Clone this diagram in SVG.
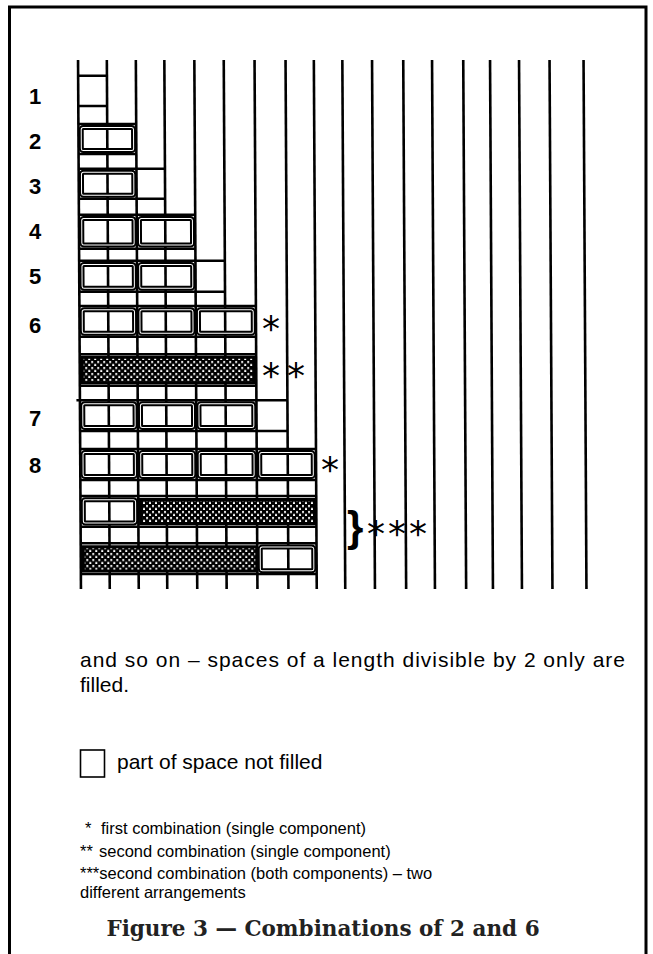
<svg xmlns="http://www.w3.org/2000/svg" width="653" height="954" viewBox="0 0 653 954">
<style>
.frame{fill:none;stroke:#000;stroke-width:3}
.v line,.h line{stroke:#000;stroke-width:2.6;stroke-linecap:butt}
.b{fill:none;stroke:#000;stroke-width:5}
.bi{fill:none;stroke:#fff;stroke-width:1}
.hx{fill:url(#chk);stroke:#000;stroke-width:3}
.num{font-family:"Liberation Sans",Arial,sans-serif;font-weight:bold;font-size:22px;fill:#000}
.ast{font-family:"DejaVu Sans",sans-serif;font-size:36px;fill:#000}
.body{font-family:"Liberation Sans",Arial,sans-serif;font-size:21px;fill:#000}
.leg{font-family:"Liberation Sans",Arial,sans-serif;font-size:16.5px;fill:#000}
.cap{font-family:"DejaVu Serif","Liberation Serif",serif;font-weight:bold;font-size:21.5px;fill:#222}
</style>
<defs>
<pattern id="chk" width="6" height="6" patternUnits="userSpaceOnUse">
<rect width="6" height="6" fill="#000"/>
<rect x="1" y="1" width="2" height="2" fill="#fff"/>
<rect x="4" y="4" width="2" height="2" fill="#fff"/>
</pattern>
</defs>
<rect width="653" height="954" fill="#fff"/>
<path class="frame" d="M9.5,960 V7 H646 V960"/>

<g id="grid" transform="matrix(1 0 0.0055 1 -1.79 0)">
<g id="verticals" class="v">
<line x1="79.5" y1="60" x2="79.5" y2="589"/>
<line x1="108.3" y1="60" x2="108.3" y2="589"/>
<line x1="137.3" y1="60" x2="137.3" y2="589"/>
<line x1="165.8" y1="60" x2="165.8" y2="589"/>
<line x1="195.8" y1="60" x2="195.8" y2="589"/>
<line x1="225.2" y1="60" x2="225.2" y2="589"/>
<line x1="256" y1="60" x2="256" y2="589"/>
<line x1="287" y1="60" x2="287" y2="589"/>
<line x1="315.3" y1="60" x2="315.3" y2="589"/>
<line x1="343.8" y1="60" x2="343.8" y2="589"/>
<line x1="373.5" y1="60" x2="373.5" y2="589"/>
<line x1="404.7" y1="60" x2="404.7" y2="589"/>
<line x1="433.5" y1="60" x2="433.5" y2="589"/>
<line x1="464.7" y1="60" x2="464.7" y2="589"/>
<line x1="491.5" y1="60" x2="491.5" y2="589"/>
<line x1="520.5" y1="60" x2="520.5" y2="589"/>
<line x1="551" y1="60" x2="551" y2="589"/>
<line x1="585" y1="60" x2="585" y2="589"/>
</g>

<g id="row1" class="h">
<line x1="79.5" y1="75.7" x2="108.3" y2="75.7"/>
<line x1="79.5" y1="106" x2="108.3" y2="106"/>
</g>
<g id="row2">
<g class="h"><line x1="79.5" y1="124" x2="137.3" y2="124"/><line x1="79.5" y1="154" x2="137.3" y2="154"/></g>
<rect class="b" x="82.3" y="127.5" width="52.3" height="23" rx="2"/><rect class="bi" x="82.3" y="127.5" width="52.3" height="23" rx="2"/>
</g>
<g id="row3">
<g class="h"><line x1="79.5" y1="168.7" x2="165.8" y2="168.7"/><line x1="79.5" y1="198.7" x2="165.8" y2="198.7"/></g>
<rect class="b" x="82.3" y="172.3" width="52.3" height="23" rx="2"/><rect class="bi" x="82.3" y="172.3" width="52.3" height="23" rx="2"/>
</g>
<g id="row4">
<g class="h"><line x1="79.5" y1="214.7" x2="195.8" y2="214.7"/><line x1="79.5" y1="248.8" x2="195.8" y2="248.8"/></g>
<rect class="b" x="82.3" y="218.5" width="52.3" height="26.5" rx="2"/><rect class="bi" x="82.3" y="218.5" width="52.3" height="26.5" rx="2"/>
<rect class="b" x="140" y="218.5" width="53" height="26.5" rx="2"/><rect class="bi" x="140" y="218.5" width="53" height="26.5" rx="2"/>
</g>
<g id="row5">
<g class="h"><line x1="79.5" y1="260.7" x2="225.2" y2="260.7"/><line x1="79.5" y1="291.7" x2="225.2" y2="291.7"/></g>
<rect class="b" x="82.3" y="264.5" width="52.3" height="23.8" rx="2"/><rect class="bi" x="82.3" y="264.5" width="52.3" height="23.8" rx="2"/>
<rect class="b" x="140" y="264.5" width="53" height="23.8" rx="2"/><rect class="bi" x="140" y="264.5" width="53" height="23.8" rx="2"/>
</g>
<g id="row6a">
<g class="h"><line x1="79.5" y1="306" x2="256" y2="306"/><line x1="79.5" y1="336.7" x2="256" y2="336.7"/></g>
<rect class="b" x="82.3" y="309.7" width="52.3" height="23.5" rx="2"/><rect class="bi" x="82.3" y="309.7" width="52.3" height="23.5" rx="2"/>
<rect class="b" x="140" y="309.7" width="53" height="23.5" rx="2"/><rect class="bi" x="140" y="309.7" width="53" height="23.5" rx="2"/>
<rect class="b" x="198.5" y="309.7" width="54.8" height="23.5" rx="2"/><rect class="bi" x="198.5" y="309.7" width="54.8" height="23.5" rx="2"/>
</g>
<g id="row6b">
<g class="h"><line x1="79.5" y1="354.3" x2="256" y2="354.3"/><line x1="79.5" y1="385.7" x2="256" y2="385.7"/></g>
<rect class="hx" x="82" y="357.3" width="172" height="25.5"/>
</g>
<g id="row7">
<g class="h"><line x1="76" y1="400.3" x2="287" y2="400.3"/><line x1="79.5" y1="431" x2="287" y2="431"/></g>
<rect class="b" x="82.3" y="403.8" width="52.3" height="23.8" rx="2"/><rect class="bi" x="82.3" y="403.8" width="52.3" height="23.8" rx="2"/>
<rect class="b" x="140" y="403.8" width="53" height="23.8" rx="2"/><rect class="bi" x="140" y="403.8" width="53" height="23.8" rx="2"/>
<rect class="b" x="198.5" y="403.8" width="54.8" height="23.8" rx="2"/><rect class="bi" x="198.5" y="403.8" width="54.8" height="23.8" rx="2"/>
</g>
<g id="row8a">
<g class="h"><line x1="79.5" y1="449" x2="315.3" y2="449"/><line x1="79.5" y1="480" x2="315.3" y2="480"/></g>
<rect class="b" x="82.3" y="452.6" width="52.3" height="24" rx="2"/><rect class="bi" x="82.3" y="452.6" width="52.3" height="24" rx="2"/>
<rect class="b" x="140" y="452.6" width="53" height="24" rx="2"/><rect class="bi" x="140" y="452.6" width="53" height="24" rx="2"/>
<rect class="b" x="198.5" y="452.6" width="54.8" height="24" rx="2"/><rect class="bi" x="198.5" y="452.6" width="54.8" height="24" rx="2"/>
<rect class="b" x="259" y="452.6" width="53.5" height="24" rx="2"/><rect class="bi" x="259" y="452.6" width="53.5" height="24" rx="2"/>
</g>
<g id="row8b">
<g class="h"><line x1="79.5" y1="496" x2="315.3" y2="496"/><line x1="79.5" y1="526.7" x2="315.3" y2="526.7"/></g>
<rect class="b" x="82.3" y="499.8" width="52.3" height="23.2" rx="2"/><rect class="bi" x="82.3" y="499.8" width="52.3" height="23.2" rx="2"/>
<rect class="hx" x="139.5" y="499.5" width="174" height="24"/>
</g>
<g id="row8c">
<g class="h"><line x1="79.5" y1="543.3" x2="315.3" y2="543.3"/><line x1="79.5" y1="574" x2="315.3" y2="574"/></g>
<rect class="hx" x="82" y="546.8" width="173.5" height="24.2"/>
<rect class="b" x="259" y="547" width="53.5" height="23.8" rx="2"/><rect class="bi" x="259" y="547" width="53.5" height="23.8" rx="2"/>
</g>
</g>

<g id="labels">
<text class="num" x="29" y="104">1</text>
<text class="num" x="29" y="149">2</text>
<text class="num" x="29" y="194">3</text>
<text class="num" x="29" y="239">4</text>
<text class="num" x="29" y="284">5</text>
<text class="num" x="29" y="333">6</text>
<text class="num" x="29" y="426">7</text>
<text class="num" x="29" y="473">8</text>
</g>
<g id="marks">
<text class="ast" x="262" y="341">*</text>
<text class="ast" x="262" y="388">*</text>
<text class="ast" x="287" y="388">*</text>
<text class="ast" x="321" y="482">*</text>
<text x="347" y="541" style="font-family:'Liberation Sans',sans-serif;font-weight:bold;font-size:42px">}</text>
<text class="ast" x="367" y="546" letter-spacing="3">***</text>
</g>

<g id="notes">
<text class="body" x="80" y="667" textLength="545" lengthAdjust="spacing">and so on – spaces of a length divisible by 2 only are</text>
<text class="body" x="80" y="692">filled.</text>
<rect x="80.5" y="750" width="24" height="27" fill="none" stroke="#000" stroke-width="1.6"/>
<text class="body" x="117" y="769" font-size="20">part of space not filled</text>
<text class="leg" x="85" y="834">*</text><text class="leg" x="101" y="834">first combination (single component)</text>
<text class="leg" x="80" y="857">**</text><text class="leg" x="99" y="857">second combination (single component)</text>
<text class="leg" x="80" y="879">***second combination (both components) – two</text>
<text class="leg" x="80" y="898">different arrangements</text>
<text class="cap" x="323" y="936" text-anchor="middle">Figure 3 — Combinations of 2 and 6</text>
</g>
</svg>
